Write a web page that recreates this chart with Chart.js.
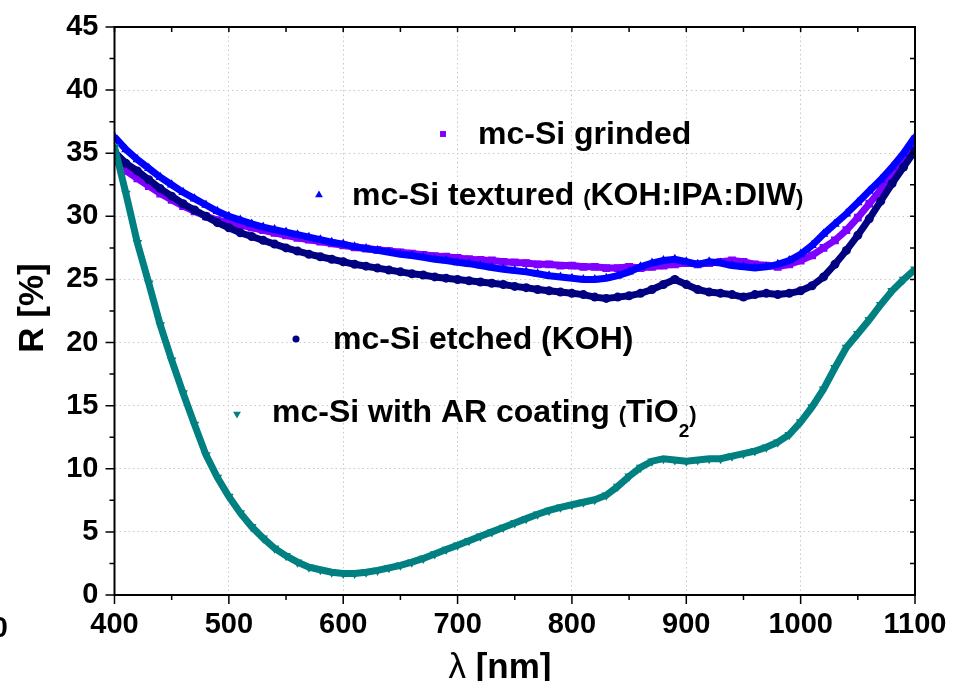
<!DOCTYPE html>
<html>
<head>
<meta charset="utf-8">
<script src="https://cdn.jsdelivr.net/npm/chart.js@4.4.1/dist/chart.umd.min.js"></script>
<style>
  html, body { margin: 0; padding: 0; background: #fff; }
  canvas { display: block; }
</style>
</head>
<body>
<canvas id="reflChart" width="954" height="681"></canvas>
<script>
// wavelength in nm, reflectance in %
const wavelength = [400, 410, 420, 430, 440, 450, 460, 470, 480, 490,
    500, 510, 520, 530, 540, 550, 560, 570, 580, 590,
    600, 610, 620, 630, 640, 650, 660, 670, 680, 690,
    700, 710, 720, 730, 740, 750, 760, 770, 780, 790,
    800, 810, 820, 830, 840, 850, 860, 870, 880, 890,
    900, 910, 920, 930, 940, 950, 960, 970, 980, 990,
    1000, 1010, 1020, 1030, 1040, 1050, 1060, 1070, 1080, 1090, 1100];

const grinded = [34.5, 33.6, 33.0, 32.4, 31.8, 31.3, 30.8, 30.4, 30.0, 29.7,
    29.5, 29.3, 29.1, 28.9, 28.7, 28.5, 28.3, 28.15, 28.0, 27.85,
    27.7, 27.55, 27.45, 27.35, 27.25, 27.15, 27.05, 26.95, 26.85, 26.8,
    26.7, 26.6, 26.55, 26.5, 26.4, 26.35, 26.3, 26.2, 26.2, 26.1,
    26.1, 26.0, 26.0, 25.9, 25.9, 26.0, 25.9, 26.0, 26.1, 26.2,
    26.3, 26.2, 26.3, 26.4, 26.5, 26.4, 26.2, 26.1, 26.0, 26.2,
    26.5, 26.9, 27.5, 28.1, 28.9, 29.9, 31.0, 32.1, 33.2, 34.3, 35.6];

const textured = [36.3, 35.3, 34.5, 33.8, 33.1, 32.5, 31.9, 31.4, 30.9, 30.4,
    30.0, 29.7, 29.4, 29.15, 28.95, 28.75, 28.55, 28.35, 28.15, 27.95,
    27.8, 27.6, 27.45, 27.3, 27.15, 27.0, 26.9, 26.75, 26.6, 26.5,
    26.35, 26.25, 26.1, 25.95, 25.8, 25.7, 25.6, 25.45, 25.3, 25.2,
    25.1, 25.0, 25.0, 25.1, 25.3, 25.6, 26.0, 26.3, 26.5, 26.6,
    26.4, 26.2, 26.4, 26.3, 26.1, 26.0, 25.9, 26.0, 26.2, 26.5,
    27.0, 27.7, 28.6, 29.4, 30.2, 31.1, 32.0, 32.9, 33.9, 35.0, 36.3];

const etched = [35.1, 34.2, 33.6, 32.9, 32.2, 31.6, 31.0, 30.5, 30.0, 29.5,
    29.1, 28.7, 28.4, 28.1, 27.8, 27.5, 27.25, 27.0, 26.8, 26.6,
    26.4, 26.2, 26.05, 25.9, 25.75, 25.6, 25.45, 25.35, 25.2, 25.1,
    25.0, 24.9, 24.8, 24.7, 24.6, 24.45, 24.35, 24.2, 24.1, 24.0,
    23.9, 23.8, 23.6, 23.5, 23.6, 23.7, 23.9, 24.2, 24.6, 25.0,
    24.6, 24.2, 24.0, 23.9, 23.8, 23.6, 23.8, 23.9, 23.8, 23.9,
    24.1, 24.5, 25.2, 26.2, 27.3, 28.5, 29.8, 31.2, 32.6, 33.9, 35.2];

const arCoating = [35.5, 31.8, 27.9, 24.7, 21.4, 18.6, 16.0, 13.5, 11.1, 9.3,
    7.8, 6.5, 5.4, 4.5, 3.7, 3.1, 2.6, 2.2, 2.0, 1.8,
    1.7, 1.7, 1.8, 1.95, 2.15, 2.35, 2.6, 2.9, 3.25, 3.6,
    3.95, 4.3, 4.65, 5.0, 5.35, 5.7, 6.05, 6.4, 6.7, 6.95,
    7.15, 7.35, 7.55, 7.9, 8.6, 9.4, 10.1, 10.6, 10.8, 10.7,
    10.6, 10.7, 10.8, 10.8, 11.0, 11.2, 11.4, 11.7, 12.1, 12.7,
    13.7, 14.9, 16.3, 18.0, 19.6, 20.7, 21.8, 23.0, 24.1, 25.0, 25.8];

const FONT = "'Liberation Sans', Arial, sans-serif";

const series = [
    { label: 'mc-Si with AR coating (TiO2)', values: arCoating, color: '#008080', style: 'triangle', rot: 180, r: 5.5 },
    { label: 'mc-Si etched (KOH)', values: etched, color: '#000080', style: 'circle', rot: 0, r: 4.5 },
    { label: 'mc-Si textured (KOH:IPA:DIW)', values: textured, color: '#0000FF', style: 'triangle', rot: 0, r: 5.5 },
    { label: 'mc-Si grinded', values: grinded, color: '#8000FF', style: 'rect', rot: 0, r: 5.5 }
];

// text legend placed inside the plot, like the original
const legendItems = [
    { color: '#8000FF', style: 'rect', rot: 0, r: 4.2, mx: 443, my: 134, tx: 478, ty: 143.5,
      runs: [{ text: 'mc-Si grinded', size: 32 }] },
    { color: '#0000FF', style: 'triangle', rot: 0, r: 4.5, mx: 319, my: 195, tx: 352, ty: 205,
      runs: [{ text: 'mc-Si textured ', size: 32 }, { text: '(', size: 22 }, { text: 'KOH:IPA:DIW', size: 32 }, { text: ')', size: 22 }] },
    { color: '#000080', style: 'circle', rot: 0, r: 3.5, mx: 296, my: 339, tx: 333, ty: 349,
      runs: [{ text: 'mc-Si etched (KOH)', size: 32 }] },
    { color: '#008080', style: 'triangle', rot: 180, r: 4.5, mx: 237, my: 414, tx: 272, ty: 422,
      runs: [{ text: 'mc-Si with AR coating ', size: 32 }, { text: '(', size: 22 }, { text: 'TiO', size: 32 }, { text: '2', size: 19, dy: 15 }, { text: ')', size: 22 }] }
];

function drawRuns(ctx, x, y, runs) {
    ctx.textAlign = 'left';
    ctx.textBaseline = 'alphabetic';
    for (const r of runs) {
        ctx.font = (r.weight || 'bold') + ' ' + r.size + 'px ' + FONT;
        ctx.fillText(r.text, x, y + (r.dy || 0));
        x += ctx.measureText(r.text).width;
    }
}

const decor = {
    id: 'decor',
    afterDraw(chart) {
        const ctx = chart.ctx;
        const a = chart.chartArea;
        const xs = chart.scales.x, ys = chart.scales.y;
        ctx.save();
        ctx.strokeStyle = '#000';
        ctx.fillStyle = '#000';

        // frame
        ctx.lineWidth = 2;
        ctx.strokeRect(a.left, a.top, a.right - a.left, a.bottom - a.top);

        // ticks, major + minor
        ctx.lineWidth = 1.5;
        ctx.beginPath();
        for (let v = 0; v <= 45; v += 2.5) {
            const py = ys.getPixelForValue(v);
            const major = v % 5 === 0;
            ctx.moveTo(a.left, py); ctx.lineTo(a.left - (major ? 9 : 5), py);
            ctx.moveTo(a.right, py); ctx.lineTo(a.right - 5, py);
        }
        for (let v = 400; v <= 1100; v += 50) {
            const px = xs.getPixelForValue(v);
            const major = v % 100 === 0;
            ctx.moveTo(px, a.bottom); ctx.lineTo(px, a.bottom + (major ? 9 : 5));
            ctx.moveTo(px, a.top); ctx.lineTo(px, a.top + 5);
        }
        ctx.stroke();

        // axis titles
        ctx.save();
        ctx.translate(43, 308);
        ctx.rotate(-Math.PI / 2);
        ctx.textAlign = 'center';
        ctx.textBaseline = 'alphabetic';
        ctx.font = 'bold 35px ' + FONT;
        ctx.fillText('R [%]', 0, 0);
        ctx.restore();

        ctx.font = 'bold 35px ' + FONT;
        const w1 = ctx.measureText(' [nm]').width;
        ctx.font = '35px ' + FONT;
        const w0 = ctx.measureText('λ').width;
        drawRuns(ctx, 500 - (w0 + w1) / 2, 678, [
            { text: 'λ', size: 35, weight: 'normal' },
            { text: ' [nm]', size: 35 }
        ]);

        // cut-off label at the far left edge
        ctx.font = 'bold 29px ' + FONT;
        ctx.textAlign = 'right';
        ctx.fillText('0', 8, 637);

        // legend
        for (const it of legendItems) {
            ctx.fillStyle = it.color;
            Chart.helpers.drawPoint(ctx, { pointStyle: it.style, radius: it.r, rotation: it.rot, borderWidth: 0 }, it.mx, it.my);
            ctx.fillStyle = '#000';
            drawRuns(ctx, it.tx, it.ty, it.runs);
        }
        ctx.restore();
    }
};

new Chart(document.getElementById('reflChart'), {
    type: 'scatter',
    data: {
        datasets: series.map(s => ({
            label: s.label,
            data: wavelength.map((w, i) => ({ x: w, y: s.values[i] })),
            showLine: true,
            borderColor: s.color,
            backgroundColor: s.color,
            borderWidth: 7,
            pointStyle: s.style,
            rotation: s.rot,
            pointRadius: s.r,
            pointBorderWidth: 0,
            tension: 0
        }))
    },
    options: {
        responsive: false,
        animation: false,
        layout: { padding: { top: 27, right: 39, left: 0, bottom: 0 } },
        plugins: { legend: { display: false }, tooltip: { enabled: false } },
        scales: {
            x: {
                type: 'linear',
                min: 400, max: 1100,
                afterFit: scale => {
                    scale.height = 86;
                    scale.paddingLeft = 0; scale.paddingRight = 0;
                },
                ticks: { stepSize: 100, color: '#000', padding: 13, maxRotation: 0,
                    callback: v => String(v),
                    font: { family: FONT, size: 29, weight: 'bold' } },
                grid: { color: '#c8c8c8', lineWidth: 1, drawTicks: false },
                border: { display: false, dash: [1.5, 3] }
            },
            y: {
                min: 0, max: 45,
                afterFit: scale => {
                    scale.width = 114.5;
                    scale.paddingTop = 0; scale.paddingBottom = 0;
                },
                ticks: { stepSize: 5, color: '#000', padding: 16,
                    callback: v => String(v),
                    font: { family: FONT, size: 29, weight: 'bold' } },
                grid: { color: '#c8c8c8', lineWidth: 1, drawTicks: false },
                border: { display: false, dash: [1.5, 3] }
            }
        }
    },
    plugins: [decor]
});
</script>
</body>
</html>
